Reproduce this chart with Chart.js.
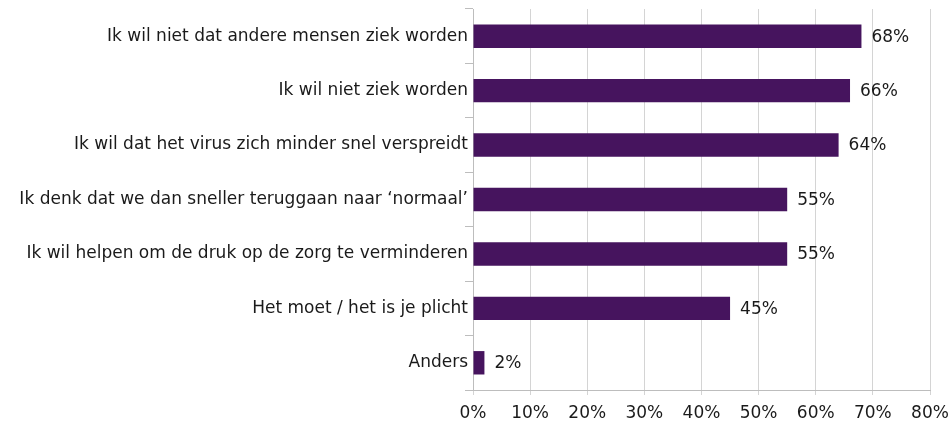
<!DOCTYPE html>
<html>
<head>
<meta charset="utf-8">
<script src="https://cdn.jsdelivr.net/npm/chart.js@4/dist/chart.umd.min.js"></script>
<style>
  html, body { margin: 0; padding: 0; background: #fff; }
  #wrap { width: 951px; height: 422px; }
</style>
</head>
<body>
<div id="wrap"><canvas id="c" width="951" height="422"></canvas></div>
<script>
// Redenen om de maatregelen op te volgen (percentage respondenten)
const categories = [
  "Ik wil niet dat andere mensen ziek worden",
  "Ik wil niet ziek worden",
  "Ik wil dat het virus zich minder snel verspreidt",
  "Ik denk dat we dan sneller teruggaan naar \u2018normaal\u2019",
  "Ik wil helpen om de druk op de zorg te verminderen",
  "Het moet / het is je plicht",
  "Anders"
];
const percentages = [68, 66, 64, 55, 55, 45, 2];
const xTicks = [0, 10, 20, 30, 40, 50, 60, 70, 80];

const FONT = "'DejaVu Sans', Verdana, sans-serif";

// Writes the percentage just past the end of each bar
const valueLabels = {
  id: 'valueLabels',
  afterDatasetsDraw(chart) {
    const ctx = chart.ctx;
    const meta = chart.getDatasetMeta(0);
    ctx.save();
    ctx.font = '17px ' + FONT;
    ctx.fillStyle = '#1a1a1a';
    ctx.textAlign = 'left';
    ctx.textBaseline = 'middle';
    meta.data.forEach((bar, i) => {
      ctx.fillText(percentages[i] + '%', bar.x + 10, bar.y + 1);
    });
    ctx.restore();
  }
};

new Chart(document.getElementById('c'), {
  type: 'bar',
  data: {
    labels: categories,
    datasets: [{
      data: percentages,
      backgroundColor: '#46145e',
      borderWidth: 0,
      barPercentage: 0.86,
      categoryPercentage: 0.5
    }]
  },
  options: {
    indexAxis: 'y',
    responsive: false,
    animation: false,
    layout: { padding: 0 },
    plugins: { legend: { display: false }, tooltip: { enabled: false } },
    scales: {
      x: {
        min: 0,
        max: 80,
        afterBuildTicks(scale) { scale.ticks = xTicks.map(v => ({ value: v })); },
        afterFit(scale) {
          scale.height = 32;
          scale.paddingLeft = 0;
          scale.paddingRight = 21;
        },
        ticks: {
          callback: v => v + '%',
          color: '#1a1a1a',
          font: { family: FONT, size: 17 },
          padding: 8,
          maxRotation: 0
        },
        grid: { color: '#d4d4d4', tickLength: 5, lineWidth: 1 },
        border: { color: '#bdbdbd' }
      },
      y: {
        afterFit(scale) {
          scale.width = 473;
          scale.paddingTop = 9;
          scale.paddingBottom = 0;
        },
        ticks: {
          color: '#1a1a1a',
          font: { family: FONT, size: 17 },
          padding: -3
        },
        grid: { drawOnChartArea: false, offset: true, tickLength: 8, color: '#bdbdbd' },
        border: { color: '#bdbdbd' }
      }
    }
  },
  plugins: [valueLabels]
});
</script>
</body>
</html>
